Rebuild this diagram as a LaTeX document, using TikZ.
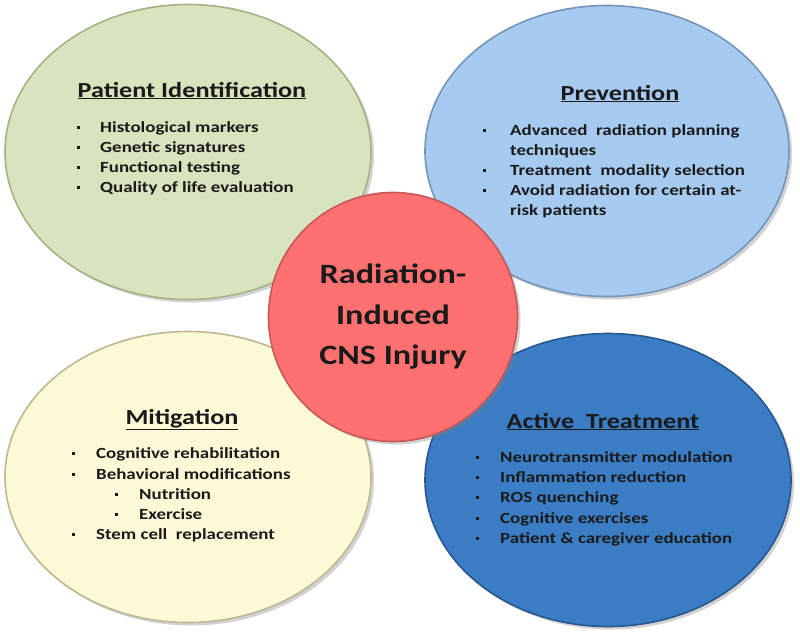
\documentclass[tikz,border=0pt]{standalone}
\usepackage{fontspec}
\setmainfont{Carlito}[FakeStretch=1.22]
\usetikzlibrary{shapes.geometric,shadows}
\definecolor{gfill}{HTML}{D7E4BE}
\definecolor{gline}{HTML}{A3B385}
\definecolor{bfill}{HTML}{A6CAF0}
\definecolor{bline}{HTML}{7494BA}
\definecolor{yfill}{HTML}{FCF9D6}
\definecolor{yline}{HTML}{BDB893}
\definecolor{dfill}{HTML}{3A7DC4}
\definecolor{dline}{HTML}{26578E}
\definecolor{rfill}{HTML}{FF7070}
\definecolor{rline}{HTML}{C85757}
\definecolor{txt}{HTML}{1A1A1A}
\newcommand{\bitem}[2][23pt]{\makebox[#1][l]{\raisebox{3pt}{\rule{3pt}{3pt}}}#2}
\tikzset{
  blob/.style={ellipse, inner sep=0pt, line width=1.6pt,
     drop shadow={opacity=0.35, shadow xshift=3pt, shadow yshift=-3pt}},
  ttl/.style={anchor=base, inner sep=0pt, text=txt, font=\bfseries\fontsize{21.5}{25}\selectfont},
  itm/.style={anchor=base west, inner sep=0pt, text=txt, font=\bfseries\fontsize{15.5}{20}\selectfont},
}
\begin{document}
\begin{tikzpicture}[x=1pt,y=-1pt]
\useasboundingbox (0,0) rectangle (800,632);
\fill[white] (0,0) rectangle (800,632);
% ellipses
\node[blob, draw=gline, fill=gfill, minimum width=366, minimum height=295] (pi) at (188,152) {};
\node[blob, draw=bline, fill=bfill, minimum width=364, minimum height=291] (pv) at (607,151) {};
\node[blob, draw=yline, fill=yfill, minimum width=366, minimum height=291] (mi) at (188,477) {};
\node[blob, draw=dline, fill=dfill, minimum width=366, minimum height=293] (at) at (608,480) {};
% centre
\node[circle, inner sep=0pt, line width=1.6pt, draw=rline, fill=rfill, minimum size=249,
      drop shadow={opacity=0.35, shadow xshift=3pt, shadow yshift=-3pt},
      align=center, text=txt, font=\bfseries\fontsize{28}{40.5}\selectfont] (c) at (393,317)
      {Radiation-\\Induced\\CNS Injury};
% Patient Identification
\node[ttl] (pit) at (192,97) {\underline{Patient Identification}};
\node[itm] (pi1) at (77,132) {\bitem{Histological markers}};
\node[itm] (pi2) at (77,152) {\bitem{Genetic signatures}};
\node[itm] (pi3) at (77,172) {\bitem{Functional testing}};
\node[itm] (pi4) at (77,192) {\bitem{Quality of life evaluation}};
% Prevention
\node[ttl] (pvt) at (620,100) {\underline{Prevention}};
\node[itm] (pv1) at (483,135) {\bitem[27pt]{Advanced\ \ radiation planning}};
\node[itm] (pv2) at (510,155) {techniques};
\node[itm] (pv3) at (483,175) {\bitem[27pt]{Treatment\ \ modality selection}};
\node[itm] (pv4) at (483,195) {\bitem[27pt]{Avoid radiation for certain at-}};
\node[itm] (pv5) at (510,215) {risk patients};
% Mitigation
\node[ttl] (mit) at (182,424) {\underline{Mitigation}};
\node[itm] (mi1) at (72,458) {\bitem[24pt]{Cognitive rehabilitation}};
\node[itm] (mi2) at (72,479) {\bitem[24pt]{Behavioral modifications}};
\node[itm] (mi3) at (115,499) {\bitem[24pt]{Nutrition}};
\node[itm] (mi4) at (115,519) {\bitem[24pt]{Exercise}};
\node[itm] (mi5) at (72,539) {\bitem[24pt]{Stem cell\ \ replacement}};
% Active Treatment
\node[ttl] (att) at (603,428) {\underline{Active\ \ Treatment}};
\node[itm] (at1) at (476,462) {\bitem[24pt]{Neurotransmitter modulation}};
\node[itm] (at2) at (476,482) {\bitem[24pt]{Inflammation reduction}};
\node[itm] (at3) at (476,502) {\bitem[24pt]{ROS quenching}};
\node[itm] (at4) at (476,523) {\bitem[24pt]{Cognitive exercises}};
\node[itm] (at5) at (476,543) {\bitem[24pt]{Patient \& caregiver education}};
\end{tikzpicture}
\end{document}
